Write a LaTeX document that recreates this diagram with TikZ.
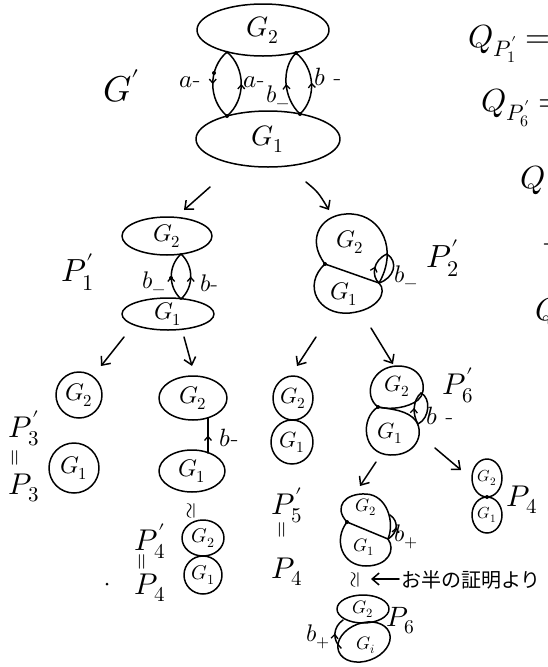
\documentclass[tikz,border=0pt]{standalone}
\usepackage{fontspec}
\usepackage{unicode-math}
\newfontfamily\jp{Noto Sans CJK JP}
\usetikzlibrary{shapes.geometric,arrows.meta,decorations.markings}
\tikzset{
 ln/.style={line width=1.5pt,line cap=round,line join=round},
 oval/.style={ln,draw,ellipse,inner sep=0pt},
 fs/.style={font=\fontsize{#1}{#1}\selectfont,inner sep=0pt},
 arr/.style={ln,-{Straight Barb[length=7pt,width=12pt,line width=1.5pt]}},
 midarr/.style={postaction={decorate},decoration={markings,mark=at position 0.5 with {\arrow[line width=1.3pt]{Straight Barb[length=4pt,width=7pt]}}}},
 vdot/.style={fill,circle,inner sep=0pt,minimum size=4pt},
}
\begin{document}
\begin{tikzpicture}[x=1pt,y=-1pt]
\useasboundingbox (0,0) rectangle (548,667);
\fill[white] (0,0) rectangle (548,667);

% ---------- G' ----------
\node[oval,minimum width=132,minimum height=52] (tG2) at (263,30) {};
\node[fs=28] (tG2t) at (tG2) {$G_2$};
\node[oval,minimum width=144,minimum height=56] (tG1) at (268,139) {};
\node[fs=28] (tG1t) at (tG1) {$G_1$};
\coordinate (la) at (227,52); \coordinate (lb) at (227,116);
\coordinate (ra) at (296,53); \coordinate (rb) at (300,114);
\draw[ln,midarr] (la) .. controls (208,68) and (208,100) .. (lb);
\draw[ln,midarr] (lb) .. controls (246,100) and (246,68) .. (la);
\draw[ln,midarr] (rb) .. controls (283,98) and (281,68) .. (ra);
\draw[ln,midarr] (rb) .. controls (317,98) and (315,68) .. (ra);
\node[vdot,minimum size=3pt] (ladot) at (la) {};
\node[vdot] (lbdot) at (lb) {};
\node[vdot] (radot) at (ra) {};
\node[vdot] (rbdot) at (rb) {};
\node[vdot] (ldot) at (214,73) {};
\node[fs=25] (lab1) at (190,82) {$a$-};
\node[fs=25] (lab2) at (254,82) {$a$-};
\node[fs=24] (lab3) at (278,97) {$b_-$};
\node[fs=25] (lab4) at (328,77) {$b$ -};
\node[fs=36] (Gp) at (122,86) {$G'$};

\coordinate (a1s) at (210,187); \coordinate (a1e) at (184,210);
\coordinate (a2s) at (306,182); \coordinate (a2e) at (329,210);
\draw[arr] (a1s) -- (a1e);
\draw[arr] (a2s) .. controls (318,192) .. (a2e);

% ---------- P'1 ----------
\node[oval,minimum width=90,minimum height=38] (p1G2) at (167,236) {};
\node[fs=24] (p1G2t) at (p1G2) {$G_2$};
\node[oval,minimum width=92,minimum height=32] (p1G1) at (168,314) {};
\node[fs=24] (p1G1t) at (p1G1) {$G_1$};
\coordinate (p1a) at (181,254); \coordinate (p1b) at (181,299);
\draw[ln,midarr] (p1b) .. controls (168,287) and (168,266) .. (p1a);
\draw[ln,midarr] (p1b) .. controls (194,287) and (194,266) .. (p1a);
\node[vdot] (p1dot) at (171,278) {};
\node[fs=24] (p1l1) at (154,283) {$b_-$};
\node[fs=24] (p1l2) at (209,283) {$b$-};
\node[fs=32] (P1) at (78,272) {$P'_1$};

\draw[arr] (124,337) -- (101,366);
\draw[arr] (184,337) -- (192,366);

% ---------- P'2 ----------
\coordinate (L) at (325,264); \coordinate (R) at (379,283); \coordinate (T) at (387,254);
\draw[ln] (L) .. controls (305,238) and (322,212) .. (352,214) .. controls (382,216) and (398,250) .. (R) -- cycle;
\draw[ln] (L) .. controls (302,285) and (318,316) .. (350,313) .. controls (378,310) and (388,292) .. (R);
\draw[ln] (R) .. controls (394,278) and (399,262) .. (T);
\draw[ln,midarr] (R) .. controls (371,276) and (373,260) .. (T);
\node[vdot] (Ldot) at (L) {};
\node[fs=24] (p2G2t) at (350,242) {$G_2$};
\node[fs=24] (p2G1t) at (344,294) {$G_1$};
\node[fs=24] (p2l) at (406,277) {$b_-$};
\node[fs=32] (P2) at (443,258) {$P'_2$};

\draw[arr] (316,337) -- (297,366);
\draw[arr] (371,328) -- (393,364);

% ---------- P'3 ----------
\node[oval,minimum size=46] (p3G2) at (79,395) {};
\node[fs=24] (p3G2t) at (p3G2) {$G_2$};
\node[oval,minimum size=50] (p3G1) at (74,468) {};
\node[fs=24] (p3G1t) at (p3G1) {$G_1$};
\node[fs=30] (P3a) at (24,428) {$P'_3$};
\node[fs=22,rotate=90] (eq3) at (16,458) {$=$};
\node[fs=30] (P3b) at (24,488) {$P_3$};

% ---------- P'4 column ----------
\node[oval,minimum width=68,minimum height=44] (p4G2) at (193,398) {};
\node[fs=24] (p4G2t) at (p4G2) {$G_2$};
\node[oval,minimum width=66,minimum height=42] (p4G1) at (192,471) {};
\node[fs=24] (p4G1t) at (p4G1) {$G_1$};
\draw[ln,midarr] (208,453) -- (208,418);
\node[fs=25] (p4l) at (229,438) {$b$-};
\node[fs=22,rotate=90] (iso1) at (192,511) {$\simeq$};
\node[oval,minimum width=42,minimum height=36] (p4pG2) at (203,538) {};
\node[fs=20] (p4pG2t) at (p4pG2) {$G_2$};
\node[oval,minimum width=38,minimum height=38] (p4pG1) at (203,575) {};
\node[fs=20] (p4pG1t) at (p4pG1) {$G_1$};
\node[fs=30] (P4a) at (150,541) {$P'_4$};
\node[fs=22,rotate=90] (eq4) at (143,562) {$=$};
\node[fs=30] (P4b) at (150,588) {$P_4$};
\node[vdot,minimum size=3pt] (pt) at (107,584) {};

% ---------- P'5 ----------
\node[oval,minimum width=40,minimum height=44] (p5G2) at (293,398) {};
\node[fs=22] (p5G2t) at (p5G2) {$G_2$};
\node[oval,minimum width=42,minimum height=44] (p5G1) at (292,442) {};
\node[fs=22] (p5G1t) at (p5G1) {$G_1$};
\node[fs=30] (P5a) at (287,505) {$P'_5$};
\node[fs=22,rotate=90] (eq5) at (283,530) {$=$};
\node[fs=30] (P5b) at (287,572) {$P_4$};

% ---------- P'6 ----------
\coordinate (L6) at (378,407);
\draw[ln] (L6) .. controls (362,395) and (372,366) .. (398,366) .. controls (425,366) and (428,392) .. (418,400) .. controls (408,408) and (390,410) .. (L6);
\draw[ln] (L6) .. controls (360,418) and (362,454) .. (390,455) .. controls (415,456) and (425,435) .. (416,421) .. controls (408,410) and (390,409) .. (L6);
\node[vdot] (L6dot) at (L6) {};
\coordinate (p6a) at (421,393); \coordinate (p6b) at (418,424);
\draw[ln] (p6b) .. controls (430,418) and (431,398) .. (p6a);
\draw[ln,midarr] (p6b) .. controls (412,414) and (413,400) .. (p6a);
\node[fs=22] (p6G2t) at (397,386) {$G_2$};
\node[fs=22] (p6G1t) at (390,433) {$G_1$};
\node[fs=25] (p6l) at (440,416) {$b$ -};
\node[fs=30] (P6) at (458,385) {$P'_6$};

\draw[arr] (376,462) -- (360,486);
\draw[arr] (435,448) -- (461,470);

% ---------- P4 (right) ----------
\node[oval,minimum width=30,minimum height=38] (rG2) at (487,478) {};
\node[fs=16] (rG2t) at (rG2) {$G_2$};
\node[oval,minimum width=30,minimum height=36] (rG1) at (487,515) {};
\node[fs=16] (rG1t) at (rG1) {$G_1$};
\node[vdot] (rdot) at (487,497) {};
\node[fs=30] (P4r) at (522,500) {$P_4$};

% ---------- lower child ----------
\coordinate (Lc) at (347,522); \coordinate (Rc) at (388,539); \coordinate (Tc) at (390,515);
\draw[ln] (Lc) .. controls (333,507) and (345,493) .. (366,494) .. controls (387,495) and (395,522) .. (Rc) -- cycle;
\draw[ln] (Lc) .. controls (333,540) and (342,566) .. (366,566) .. controls (388,566) and (396,550) .. (Rc);
\draw[ln,midarr] (Rc) .. controls (398,533) and (399,521) .. (Tc);
\node[vdot] (Lcdot) at (Lc) {};
\node[fs=18] (cG2t) at (366,507) {$G_2$};
\node[fs=18] (cG1t) at (364,547) {$G_1$};
\node[fs=24] (cl) at (406,537) {$b_+$};

\node[fs=22,rotate=90] (iso2) at (356,580) {$\simeq$};
\coordinate (arS) at (399,579); \coordinate (arE) at (371,579);
\draw[arr] (arS) -- (arE);
\node[anchor=west,inner sep=0pt,font=\jp\fontsize{20}{20}\selectfont] (note) at (401,580) {お半の証明より};

% ---------- bottom P6 ----------
\node[oval,minimum width=52,minimum height=28] (bG2) at (363,609) {};
\node[fs=18] (bG2t) at (bG2) {$G_2$};
\node[oval,minimum width=54,minimum height=38,rotate=20] (bG1) at (364,642) {};
\node[fs=18] (bG1t) at (366,645) {$G_i$};
\draw[ln,midarr] (341,648) .. controls (332,640) and (333,627) .. (343,620);
\node[fs=24] (bl) at (318,637) {$b_+$};
\node[fs=28] (P6b) at (401,621) {$P_6$};

% ---------- right-side text ----------
\node[fs=32,anchor=west] (q1) at (468,44) {$Q_{P'_1}=$};
\node[fs=32,anchor=west] (q2) at (481,108) {$Q_{P'_6}=$};
\node[fs=32,anchor=west] (q3) at (520,180) {$Q$};
\node[fs=32,anchor=west] (q4) at (542,248) {$-$};
\node[fs=32,anchor=west] (q5) at (535,312) {$Q$};
\end{tikzpicture}
\end{document}
